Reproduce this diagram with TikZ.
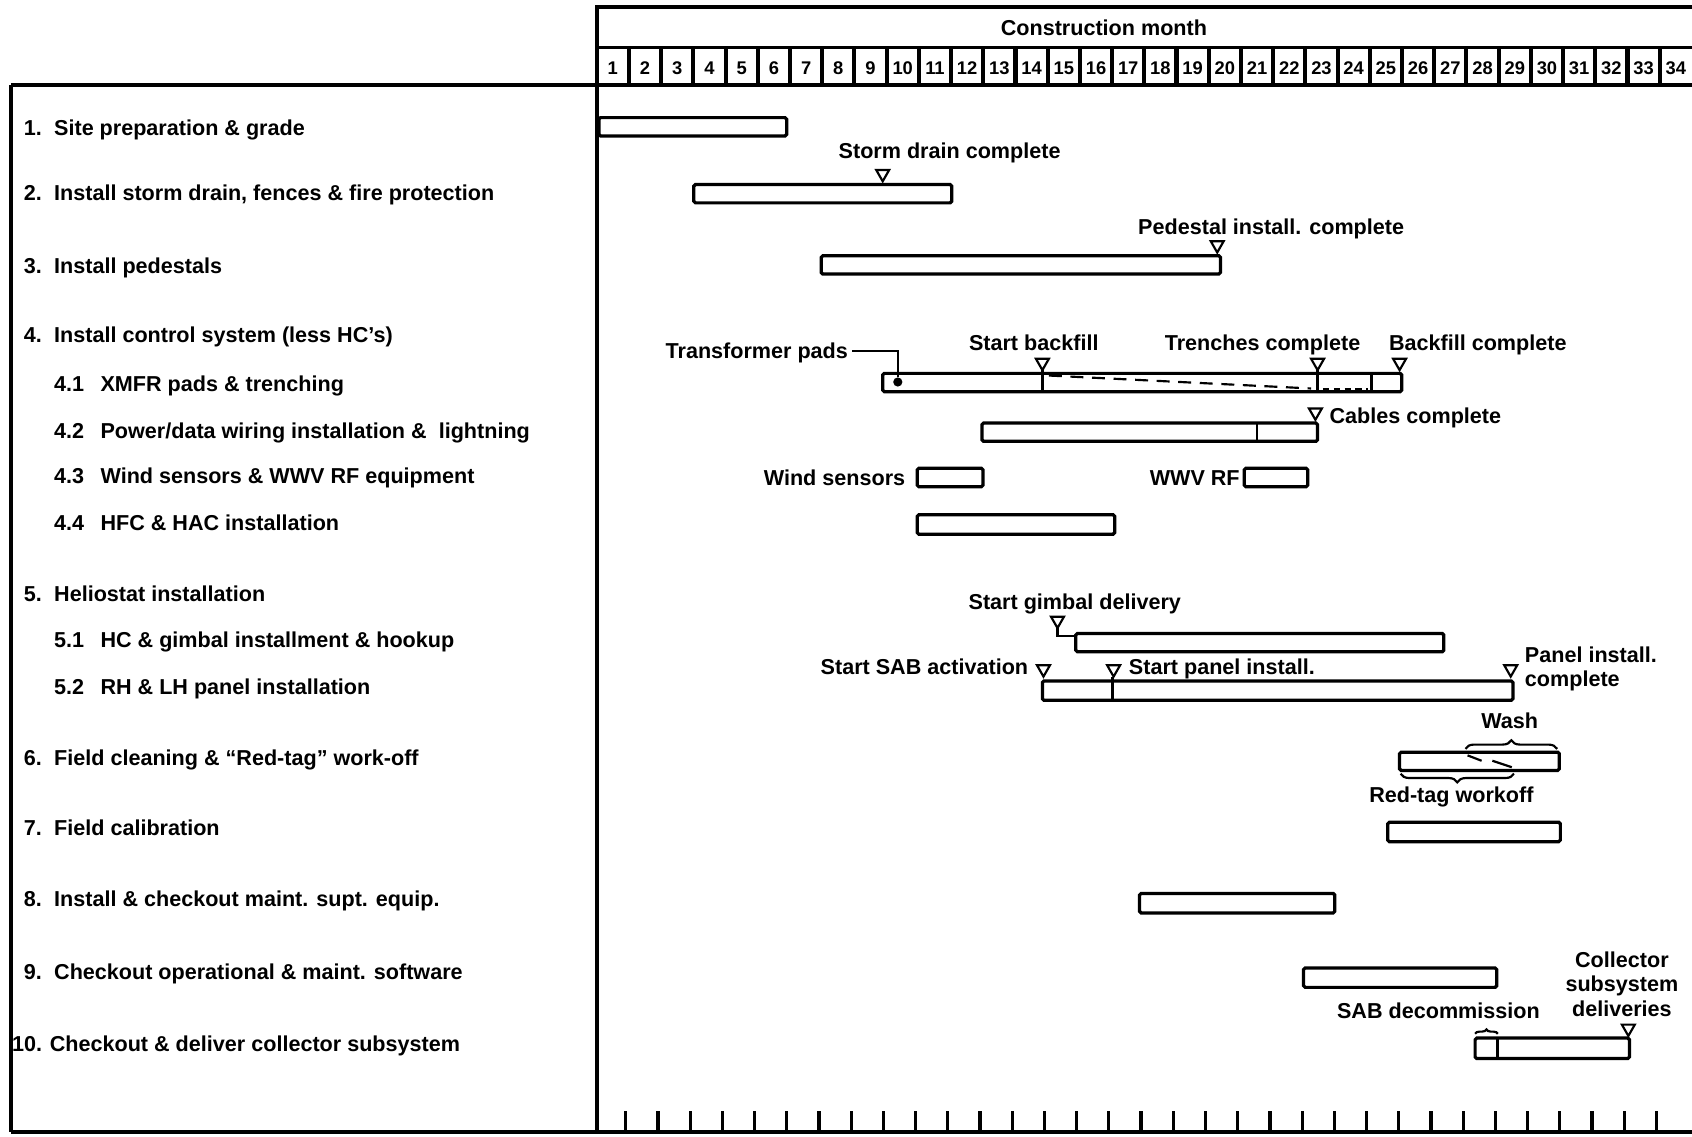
\documentclass[tikz,border=0pt]{standalone}
\usepackage{fontspec}
\setmainfont{Liberation Sans}
\usetikzlibrary{decorations.pathreplacing}
\begin{document}
\begin{tikzpicture}[x=1pt,y=-1pt,
  lbl/.style={font=\bfseries\fontsize{20}{22}\selectfont, inner sep=0pt, text height=14pt, text depth=0pt},
  lbltwo/.style={font=\bfseries\fontsize{20}{22.5}\selectfont, inner sep=0pt},
  num/.style={font=\bfseries\fontsize{17}{19}\selectfont, inner sep=0pt},
  bar/.style={draw, line width=3pt, rounded corners=1.5pt},
  frameline/.style={line width=3.3pt},
  inner/.style={line width=2.4pt},
  tick/.style={line width=3pt},
  bracedeco/.style={decorate, decoration={brace, amplitude=#1}, line width=2pt},
  milestone/.pic={\draw[line width=2pt, line join=miter] (0,0) -- (-6,-10.5) -- (6,-10.5) -- cycle;}
]
\fill[white] (0,0) rectangle (1568,1053);
\useasboundingbox (0,0) rectangle (1568,1053);

% ---- frame ----
\draw[frameline] (553,6.5) -- (1568,6.5);
\draw[frameline] (553,5) -- (553,1049);
\draw[line width=2.8pt] (553,44) -- (1568,44);
\draw[frameline] (10,79) -- (1568,79);
\draw[frameline] (10,79) -- (10,1049);
\draw[frameline] (10,1049) -- (1568,1049);
\foreach \k in {1,...,33} \draw[line width=3.8pt] ({553+\k*29.85},44) -- ({553+\k*29.85},79);
\foreach \i in {1,...,34} \node[num] (m\i) at ({553+(\i-0.5)*29.85},63) {\i};
\node[lbl] (cm) at (1023,26) {Construction month};
\foreach \k in {1,...,33} \draw[tick] ({553+\k*29.85-3},1030) -- ({553+\k*29.85-3},1049);

% ---- task labels ----
\node[lbl, anchor=west] (t1) at (22,119) {\makebox[28pt][l]{1.}Site preparation \& grade};
\node[lbl, anchor=west] (t2) at (22,179) {\makebox[28pt][l]{2.}Install storm drain, fences \& fire protection};
\node[lbl, anchor=west] (t3) at (22,246) {\makebox[28pt][l]{3.}Install pedestals};
\node[lbl, anchor=west] (t4) at (22,310) {\makebox[28pt][l]{4.}Install control system (less HC’s)};
\node[lbl, anchor=west] (t41) at (50,356) {\makebox[43pt][l]{4.1}XMFR pads \& trenching};
\node[lbl, anchor=west] (t42) at (50,399) {\makebox[43pt][l]{4.2}Power/data wiring installation \&~ lightning};
\node[lbl, anchor=west] (t43) at (50,441) {\makebox[43pt][l]{4.3}Wind sensors \& WWV RF equipment};
\node[lbl, anchor=west] (t44) at (50,485) {\makebox[43pt][l]{4.4}HFC \& HAC installation};
\node[lbl, anchor=west] (t5) at (22,550) {\makebox[28pt][l]{5.}Heliostat installation};
\node[lbl, anchor=west] (t51) at (50,593) {\makebox[43pt][l]{5.1}HC \& gimbal installment \& hookup};
\node[lbl, anchor=west] (t52) at (50,637) {\makebox[43pt][l]{5.2}RH \& LH panel installation};
\node[lbl, anchor=west] (t6) at (22,702) {\makebox[28pt][l]{6.}Field cleaning \& “Red-tag” work-off};
\node[lbl, anchor=west] (t7) at (22,767) {\makebox[28pt][l]{7.}Field calibration};
\node[lbl, anchor=west] (t8) at (22,833) {\makebox[28pt][l]{8.}Install \& checkout maint. supt. equip.};
\node[lbl, anchor=west] (t9) at (22,901) {\makebox[28pt][l]{9.}Checkout operational \& maint. software};
\node[lbl, anchor=west] (t10) at (11,967) {\makebox[35pt][l]{10.}Checkout \& deliver collector subsystem};

% ---- bars ----
% 1
\draw[bar] (555,109) rectangle (729,126);
% 2
\draw[bar] (643,171) rectangle (882,188);
\pic at (818,168) {milestone};
\node[lbl] (sdc) at (880,140) {Storm drain complete};
% 3
\draw[bar] (761,237) rectangle (1131,254);
\pic at (1128,234) {milestone};
\node[lbl] (pdc) at (1178,210) {Pedestal install. complete};
% 4.1
\draw[bar] (818,346) rectangle (1299,363);
\node[circle, fill, inner sep=0pt, minimum size=8.5pt] (dot) at (832,354) {};
\node[lbl, anchor=east] (tp) at (786,325) {Transformer pads};
\draw[line width=2pt, shorten <=4pt] (tp.east) -| (dot);
\pic at (966,343) {milestone};
\draw[inner] (966,343) -- (966,363);
\node[lbl] (sb) at (958,318) {Start backfill};
\pic at (1221,343) {milestone};
\draw[inner] (1221,343) -- (1221,363);
\node[lbl] (tc) at (1170,318) {Trenches complete};
\draw[inner] (1271,346) -- (1271,363);
\pic at (1297,343) {milestone};
\node[lbl, anchor=west] (bc) at (1287,318) {Backfill complete};
\draw[line width=2pt, dash pattern=on 12pt off 8pt] (972,348) -- (1215,360);
\draw[line width=2pt, dash pattern=on 6pt off 4pt] (1226,360.5) -- (1268,360.5);
% 4.2
\draw[bar] (910,392) rectangle (1221,409);
\draw[inner] (1165,392) -- (1165,409);
\pic at (1219,389) {milestone};
\node[lbl, anchor=west] (cc) at (1232,385) {Cables complete};
% 4.3
\draw[bar] (850,434) rectangle (911,451);
\node[lbl, anchor=east] (ws) at (839,443) {Wind sensors};
\draw[bar] (1153,434) rectangle (1212,451);
\node[lbl, anchor=east] (wwv) at (1149,443) {WWV RF};
% 4.4
\draw[bar] (850,477) rectangle (1033,495);
% 5.1
\draw[bar] (997,587) rectangle (1338,604);
\pic at (980,582) {milestone};
\coordinate (gtip) at (980,582);
\coordinate (gbar) at (995,589);
\draw[line width=2pt] (gtip) |- (gbar);
\node[lbl] (sgd) at (996,558) {Start gimbal delivery};
% 5.2
\draw[bar] (966,631) rectangle (1402,649);
\draw[inner] (1031,627) -- (1031,649);
\pic at (967,627) {milestone};
\pic at (1032,627) {milestone};
\pic at (1400,627) {milestone};
\node[lbl, anchor=east] (ssa) at (953,618) {Start SAB activation};
\node[lbl, anchor=west] (spi) at (1046,618) {Start panel install.};
\node[lbltwo, anchor=west, align=left] (pnl) at (1413,620) {Panel install.\\complete};
% 6
\draw[bar] (1297,697) rectangle (1445,714);
\draw[line width=2pt] (1360,700) -- (1373,705);
\draw[line width=2pt] (1383,705) -- (1401,711);
\draw[bracedeco=8pt] (1358,694) -- (1443,694);
\node[lbl] (wash) at (1399,668) {Wash};
\draw[bracedeco=8pt] (1403,717) -- (1298,717);
\node[lbl] (rtw) at (1345,737) {Red-tag workoff};
% 7
\draw[bar] (1286,762) rectangle (1446,780);
% 8
\draw[bar] (1056,828) rectangle (1237,846);
% 9
\draw[bar] (1208,897) rectangle (1387,915);
% 10
\draw[bar] (1367,962) rectangle (1510,981);
\draw[inner] (1388,962) -- (1388,981);
\draw[bracedeco=4pt] (1367,958) -- (1388,958);
\pic at (1509,960) {milestone};
\node[lbl] (sabd) at (1333,937) {SAB decommission};
\node[lbltwo, align=center] (csd) at (1503,912) {Collector\\subsystem\\deliveries};
\end{tikzpicture}
\end{document}
